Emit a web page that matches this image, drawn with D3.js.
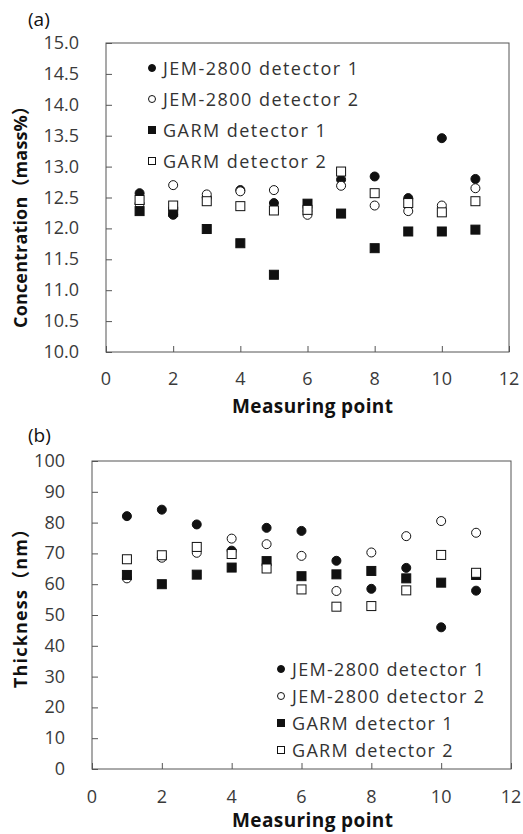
<!DOCTYPE html>
<html>
<head>
<meta charset="utf-8">
<script src="https://cdn.jsdelivr.net/npm/d3@7"></script>
<style>
  body { margin: 0; background: #fff; }
  text { font-family: "Open Sans", "Noto Sans CJK JP", sans-serif; }
</style>
</head>
<body>
<div id="chart-container"></div>
<script>
// measuring points shared by both panels
const points = [1, 2, 3, 4, 5, 6, 7, 8, 9, 10, 11];
const seriesNames = ["JEM-2800 detector 1", "JEM-2800 detector 2", "GARM detector 1", "GARM detector 2"];

// (a) concentration, mass%
const concJem1 = [12.57, 12.22, 12.50, 12.62, 12.41, 12.28, 12.79, 12.84, 12.49, 13.46, 12.80];
const concJem2 = [12.40, 12.70, 12.55, 12.60, 12.62, 12.22, 12.69, 12.37, 12.28, 12.37, 12.65];
const concGarm1 = [12.28, 12.27, 11.99, 11.76, 11.25, 12.40, 12.24, 11.68, 11.95, 11.95, 11.98];
const concGarm2 = [12.46, 12.37, 12.44, 12.36, 12.29, 12.30, 12.92, 12.57, 12.41, 12.26, 12.44];

// (b) thickness, nm
const thickJem1 = [82.1, 84.2, 79.4, 70.9, 78.3, 77.3, 67.6, 58.5, 65.3, 46.0, 57.9];
const thickJem2 = [61.9, 68.6, 70.2, 74.8, 73.0, 69.2, 57.8, 70.3, 75.6, 80.5, 76.7];
const thickGarm1 = [63.0, 60.0, 63.1, 65.4, 67.5, 62.6, 63.2, 64.3, 61.9, 60.5, 63.0];
const thickGarm2 = [68.1, 69.4, 72.1, 69.8, 65.1, 58.3, 52.7, 52.9, 58.0, 69.5, 63.7];

const xTicks = [0, 2, 4, 6, 8, 10, 12];
const concTicks = [10, 10.5, 11, 11.5, 12, 12.5, 13, 13.5, 14, 14.5, 15];
const thickTicks = [0, 10, 20, 30, 40, 50, 60, 70, 80, 90, 100];

const markerStyles = [
    { shape: "circle", fill: "#111" },
    { shape: "circle", fill: "#fff" },
    { shape: "square", fill: "#111" },
    { shape: "square", fill: "#fff" }
];

const svg = d3.select("#chart-container")
    .append("svg")
    .attr("width", 523)
    .attr("height", 834);

const drawMarker = (g, style, cx, cy, size) => {
    if (style.shape === "circle") {
        g.append("circle")
            .attr("cx", cx).attr("cy", cy).attr("r", size / 2)
            .attr("fill", style.fill).attr("stroke", "#111").attr("stroke-width", 1);
    } else {
        g.append("rect")
            .attr("x", cx - size / 2).attr("y", cy - size / 2)
            .attr("width", size).attr("height", size)
            .attr("fill", style.fill).attr("stroke", "#111").attr("stroke-width", 1);
    }
};

// the original font runs wide; spread letters until the text is as wide as in the figure
const spreadTo = (t, width) => {
    const natural = t.node().getComputedTextLength();
    const n = t.text().length;
    if (width > natural && n > 1) {
        t.attr("letter-spacing", (width - natural) / (n - 1));
    }
};

const drawPanel = (cfg) => {
    const g = svg.append("g");
    const x = d3.scaleLinear().domain([0, 12]).range([cfg.left, cfg.right]);
    const y = d3.scaleLinear().domain(cfg.yDomain).range([cfg.bottom, cfg.top]);

    // frame
    g.append("rect")
        .attr("x", cfg.left).attr("y", cfg.top)
        .attr("width", cfg.right - cfg.left).attr("height", cfg.bottom - cfg.top)
        .attr("fill", "none").attr("stroke", "#555").attr("stroke-width", 1);

    // axes with inside ticks
    const yAxis = g.append("g")
        .attr("transform", `translate(${cfg.left},0)`)
        .call(d3.axisRight(y).tickValues(cfg.yTicks).tickSize(6).tickFormat(""));
    yAxis.select(".domain").remove();
    yAxis.selectAll("line").attr("stroke", "#555");

    const xAxis = g.append("g")
        .attr("transform", `translate(0,${cfg.bottom})`)
        .call(d3.axisTop(x).tickValues(xTicks).tickSize(6).tickFormat(""));
    xAxis.select(".domain").remove();
    xAxis.selectAll("line").attr("stroke", "#555");

    // tick labels
    g.selectAll(".ylab")
        .data(cfg.yTicks)
        .enter().append("text")
        .attr("x", cfg.left - 27)
        .attr("y", d => y(d) + 6)
        .attr("text-anchor", "end")
        .attr("font-size", 18)
        .attr("fill", "#3a3a3a")
        .text(d => cfg.yFormat(d));

    g.selectAll(".xlab")
        .data(xTicks)
        .enter().append("text")
        .attr("x", d => x(d))
        .attr("y", cfg.bottom + cfg.xLabGap)
        .attr("text-anchor", "middle")
        .attr("font-size", 18)
        .attr("fill", "#3a3a3a")
        .text(d => d);

    // axis titles, placed from their left / bottom edge
    const xt = g.append("text")
        .attr("x", 232)
        .attr("y", cfg.bottom + cfg.xTitleGap)
        .attr("font-size", 19)
        .attr("font-weight", "bold")
        .attr("fill", "#111")
        .text("Measuring point");
    spreadTo(xt, 161);

    const yt = g.append("text")
        .attr("transform", `translate(27,${cfg.yTitleBottom}) rotate(-90)`)
        .attr("font-size", 18)
        .attr("font-weight", "bold")
        .attr("fill", "#111")
        .text(cfg.yTitle);
    spreadTo(yt, cfg.yTitleLen);

    // panel letter
    g.append("text")
        .attr("x", 28)
        .attr("y", cfg.letterY)
        .attr("font-family", "Liberation Serif, serif")
        .attr("font-size", 19)
        .attr("fill", "#111")
        .text(cfg.letter);

    // data markers, in series order
    cfg.series.forEach((values, si) => {
        const sg = g.append("g");
        values.forEach((v, i) => drawMarker(sg, markerStyles[si], x(points[i]), y(v), 9));
    });

    // legend
    let spacing = null;
    seriesNames.forEach((name, i) => {
        const ly = cfg.legendY + i * cfg.legendGap;
        drawMarker(g, markerStyles[i], cfg.legendX, ly, 7);
        const t = g.append("text")
            .attr("x", cfg.legendX + 11)
            .attr("y", ly + 7)
            .attr("font-size", 18)
            .attr("fill", "#333")
            .text(name);
        if (spacing === null) {
            spacing = (cfg.legendWidth - t.node().getComputedTextLength()) / (name.length - 1);
        }
        t.attr("letter-spacing", spacing);
    });
};

drawPanel({
    letter: "(a)", letterY: 26,
    left: 106, right: 509, top: 43, bottom: 352,
    xLabGap: 33, xTitleGap: 61,
    yDomain: [10, 15], yTicks: concTicks,
    yFormat: d3.format(".1f"),
    yTitle: "Concentration（mass%）", yTitleLen: 231,
    yTitleBottom: 328,
    series: [concJem1, concJem2, concGarm1, concGarm2],
    legendX: 152, legendY: 68, legendGap: 31, legendWidth: 195
});

drawPanel({
    letter: "(b)", letterY: 442,
    left: 92, right: 511, top: 461, bottom: 769,
    xLabGap: 34, xTitleGap: 58,
    yDomain: [0, 100], yTicks: thickTicks,
    yFormat: d => d,
    yTitle: "Thickness（nm）", yTitleLen: 168,
    yTitleBottom: 688,
    series: [thickJem1, thickJem2, thickGarm1, thickGarm2],
    legendX: 281, legendY: 669, legendGap: 27, legendWidth: 192
});
</script>
</body>
</html>
